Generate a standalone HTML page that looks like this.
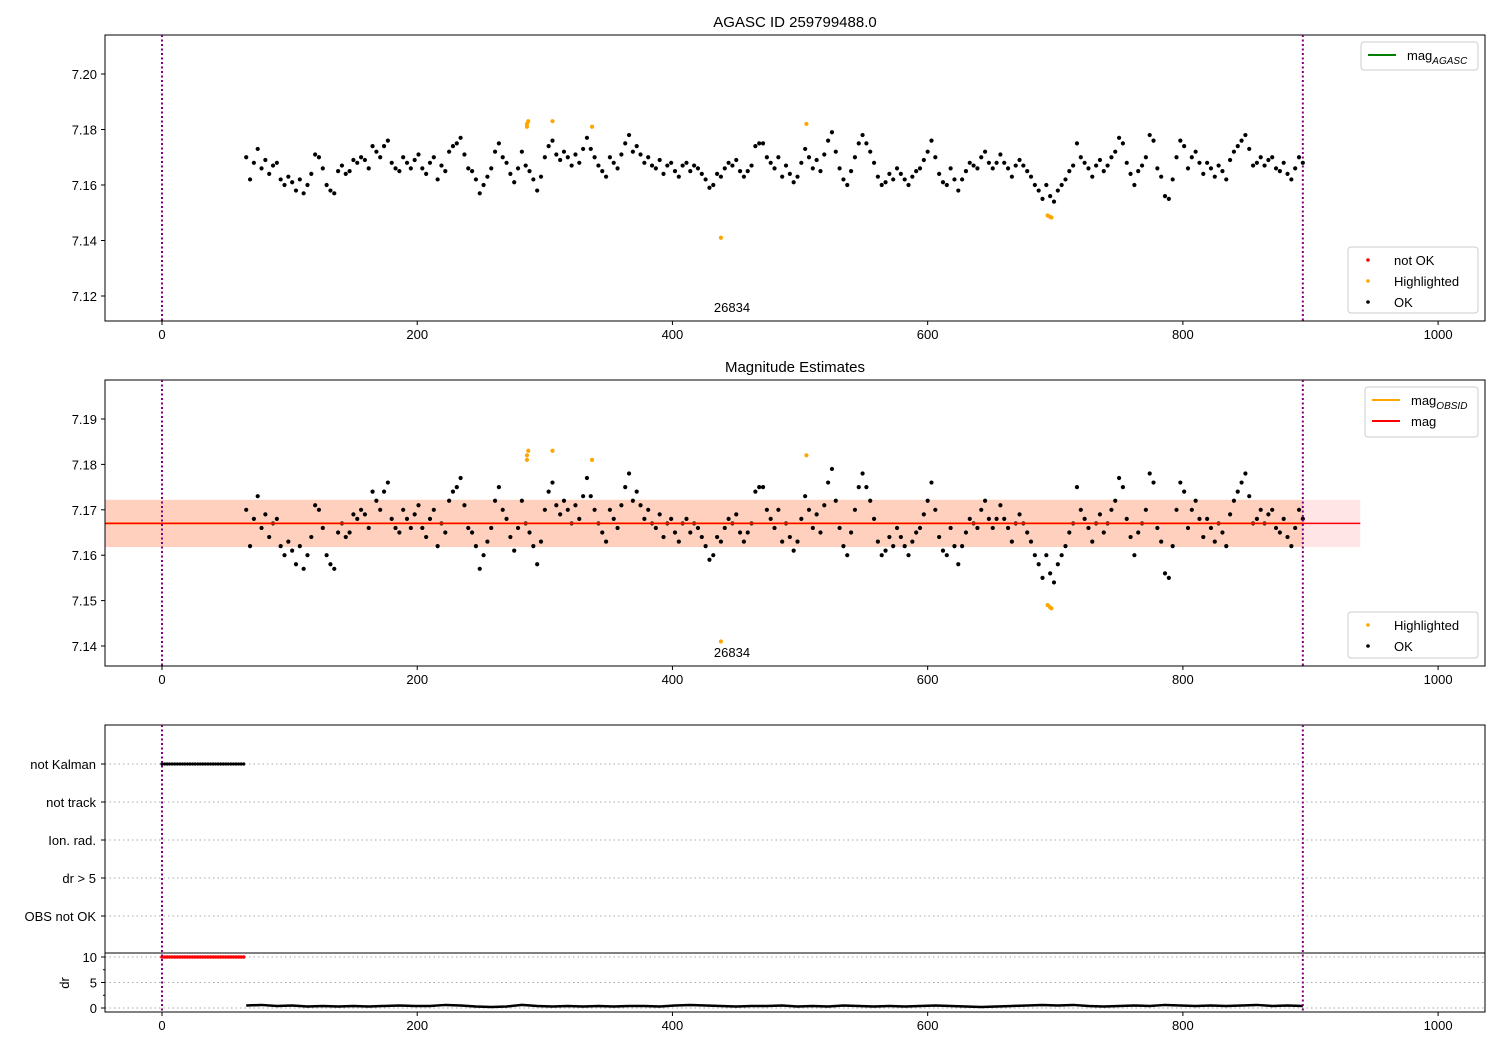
<!DOCTYPE html>
<html><head><meta charset="utf-8"><style>
body{margin:0;background:#fff;}
svg text{font-family:"Liberation Sans","DejaVu Sans",sans-serif;}
</style></head><body>
<svg id="c" width="1500" height="1050" xmlns="http://www.w3.org/2000/svg"></svg>
<script>
const obsStart = 66, obsStep = 3;
const mags = [7.170,7.162,7.168,7.173,7.166,7.169,7.164,7.167,7.168,7.162,7.160,7.163,7.161,7.158,7.162,7.157,7.160,7.164,7.171,7.170,7.166,7.160,7.158,7.157,7.165,7.167,7.164,7.165,7.169,7.168,7.170,7.169,7.166,7.174,7.172,7.170,7.174,7.176,7.168,7.166,7.165,7.170,7.168,7.166,7.169,7.171,7.166,7.164,7.168,7.170,7.162,7.167,7.165,7.172,7.174,7.175,7.177,7.171,7.166,7.165,7.162,7.157,7.160,7.163,7.166,7.172,7.175,7.170,7.168,7.164,7.161,7.166,7.172,7.167,7.165,7.162,7.158,7.163,7.170,7.174,7.176,7.171,7.169,7.172,7.170,7.167,7.171,7.168,7.173,7.177,7.173,7.170,7.167,7.165,7.163,7.170,7.168,7.166,7.171,7.175,7.178,7.172,7.174,7.171,7.168,7.170,7.167,7.166,7.169,7.164,7.167,7.168,7.165,7.163,7.167,7.168,7.165,7.167,7.166,7.164,7.162,7.159,7.160,7.164,7.163,7.166,7.168,7.167,7.169,7.165,7.163,7.165,7.167,7.174,7.175,7.175,7.170,7.168,7.166,7.170,7.163,7.167,7.164,7.161,7.163,7.168,7.173,7.170,7.166,7.169,7.165,7.171,7.176,7.179,7.172,7.166,7.162,7.160,7.165,7.170,7.175,7.178,7.175,7.172,7.168,7.163,7.160,7.161,7.164,7.162,7.166,7.164,7.162,7.160,7.163,7.165,7.166,7.169,7.172,7.176,7.170,7.164,7.161,7.160,7.166,7.162,7.158,7.162,7.165,7.168,7.167,7.166,7.170,7.172,7.168,7.166,7.168,7.171,7.168,7.166,7.163,7.167,7.169,7.167,7.165,7.163,7.160,7.158,7.155,7.160,7.156,7.154,7.158,7.160,7.162,7.165,7.167,7.175,7.170,7.168,7.166,7.163,7.167,7.169,7.165,7.167,7.170,7.172,7.177,7.175,7.168,7.164,7.160,7.165,7.167,7.170,7.178,7.176,7.166,7.163,7.156,7.155,7.162,7.170,7.176,7.174,7.166,7.170,7.172,7.168,7.164,7.168,7.166,7.163,7.167,7.165,7.162,7.169,7.172,7.174,7.176,7.178,7.173,7.167,7.168,7.170,7.167,7.169,7.170,7.166,7.165,7.168,7.164,7.162,7.166,7.170,7.168];
const hlX = [286,287,286,306,337,505,438,694,696,697];
const hlY = [7.182,7.183,7.181,7.183,7.181,7.182,7.141,7.149,7.1485,7.1483];
const kalmanX = [0,2,4,6,8,10,12,14,16,18,20,22,24,26,28,30,32,34,36,38,40,42,44,46,48,50,52,54,56,58,60,62,64];
const drStart = 66, drStep = 12;
const drVals = [0.5,0.6,0.4,0.5,0.3,0.4,0.3,0.4,0.3,0.4,0.5,0.4,0.4,0.6,0.5,0.3,0.2,0.3,0.6,0.4,0.3,0.4,0.3,0.4,0.3,0.4,0.4,0.3,0.5,0.6,0.5,0.4,0.3,0.4,0.4,0.5,0.3,0.4,0.3,0.5,0.4,0.3,0.4,0.3,0.4,0.5,0.4,0.3,0.2,0.3,0.4,0.5,0.6,0.5,0.6,0.4,0.3,0.4,0.5,0.4,0.6,0.5,0.4,0.5,0.4,0.5,0.6,0.4,0.5,0.4];
const catLabels = ["not Kalman","not track","Ion. rad.","dr > 5","OBS not OK"];
const xTicks = [0,200,400,600,800,1000];
const p1Ticks = [7.12,7.14,7.16,7.18,7.20];
const p2Ticks = [7.14,7.15,7.16,7.17,7.18,7.19];
const drTicks = [0,5,10];
const magMean = 7.167, magSig = 0.0052, obsEnd = 894, bandEnd = 939;

const svg = document.getElementById('c');
const NS = 'http://www.w3.org/2000/svg';
function mk(tag, attrs, parent){const e=document.createElementNS(NS,tag);for(const k in attrs)e.setAttribute(k,attrs[k]);(parent||svg).appendChild(e);return e;}
const X0=105,X1=1485;
const xs = v => 162 + (v)*1.2761;
function yLin(d0,d1,p0,p1){return v=>p0+(v-d0)*(p1-p0)/(d1-d0);}
const y1 = yLin(7.20,7.12,74,296);
const y2 = yLin(7.19,7.14,419,646);
const yDr = yLin(10,0,957,1008);
const catY = [764,802,840,878,916];

function frame(top,bot,name){
  const r=mk('rect',{x:X0,y:top,width:X1-X0,height:bot-top,fill:'none',stroke:'#000','stroke-width':1});
  
  
}
function xAxis(bot){
  xTicks.forEach(t=>{const px=xs(t);mk('line',{x1:px,y1:bot,x2:px,y2:bot+4,stroke:'#000'});
    const tx=mk('text',{x:px,y:bot+18,'font-size':13,'text-anchor':'middle'});tx.textContent=t;
    
    });
}
function yAxis(ticks,fy,fmt){
  ticks.forEach(t=>{const py=fy(t);mk('line',{x1:X0-4,y1:py,x2:X0,y2:py,stroke:'#000'});
    const tx=mk('text',{x:X0-8,y:py+5,'font-size':13,'text-anchor':'end'});tx.textContent=fmt(t);
    
    });
}
function vlines(top,bot){[0,obsEnd].forEach(v=>mk('line',{x1:xs(v),y1:top,x2:xs(v),y2:bot,stroke:'#800080','stroke-width':2,'stroke-dasharray':'2,2.5'}));}
function dot(x,y,c,r){mk('circle',{cx:x,cy:y,r:r||2.1,fill:c});}
function title(t,y,name){const tx=mk('text',{x:795,y:y,'font-size':15,'text-anchor':'middle'});tx.textContent=t;
  
  }
function legend(x,y,w,h,items,name){
  const g=mk('g',{});
  
  
  mk('rect',{x:x,y:y,width:w,height:h,rx:3,fill:'#fff','fill-opacity':0.85,stroke:'#ccc'},g);
  items.forEach((it,i)=>{const cy=y+13+i*21;
    if(it.line) mk('line',{x1:x+7,y1:cy,x2:x+35,y2:cy,stroke:it.c,'stroke-width':2},g);
    else mk('circle',{cx:x+20,cy:cy,r:1.8,fill:it.c},g);
    const tx=mk('text',{x:x+46,y:cy+5,'font-size':13},g);tx.innerHTML=it.t;});
}

// Panel 1
title('AGASC ID 259799488.0',27,'top-title');
frame(35,321,'agasc-panel');
xAxis(321); yAxis(p1Ticks,y1,v=>v.toFixed(2)); vlines(35,321);
mags.forEach((m,i)=>dot(xs(obsStart+i*obsStep),y1(m),'#000'));
hlX.forEach((v,i)=>dot(xs(v),y1(hlY[i]),'orange'));
let t=mk('text',{x:732,y:312,'font-size':13,'text-anchor':'middle'});t.textContent='26834';
legend(1361,42,117,28,[{line:1,c:'green',t:'mag<tspan font-size="10" font-style="italic" dy="4">AGASC</tspan>'}],'agasc-legend');
legend(1348,247,130,66,[{c:'red',t:'not OK'},{c:'orange',t:'Highlighted'},{c:'#000',t:'OK'}],'status-legend');

// Panel 2
title('Magnitude Estimates',372,'magnitude-title');
mk('rect',{x:X0,y:y2(magMean+magSig),width:xs(bandEnd)-X0,height:y2(magMean-magSig)-y2(magMean+magSig),fill:'#ffcccc','fill-opacity':0.5});
mk('rect',{x:X0,y:y2(magMean+magSig),width:xs(obsEnd)-X0,height:y2(magMean-magSig)-y2(magMean+magSig),fill:'#ffa060','fill-opacity':0.3});
mags.forEach((m,i)=>dot(xs(obsStart+i*obsStep),y2(m),'#000'));
hlX.forEach((v,i)=>dot(xs(v),y2(hlY[i]),'orange'));
mk('line',{x1:X0,y1:y2(magMean),x2:xs(obsEnd),y2:y2(magMean),stroke:'orange','stroke-width':2});
mk('line',{x1:X0,y1:y2(magMean),x2:xs(bandEnd),y2:y2(magMean),stroke:'red','stroke-width':1.5});
frame(380,666,'magnitude-panel');
xAxis(666); yAxis(p2Ticks,y2,v=>v.toFixed(2)); vlines(380,666);
t=mk('text',{x:732,y:657,'font-size':13,'text-anchor':'middle'});t.textContent='26834';
legend(1365,387,113,50,[{line:1,c:'orange',t:'mag<tspan font-size="10" font-style="italic" dy="4">OBSID</tspan>'},{line:1,c:'red',t:'mag'}],'mag-legend');
legend(1348,612,130,46,[{c:'orange',t:'Highlighted'},{c:'#000',t:'OK'}],'hl-legend');

// Panel 3
catLabels.forEach((c,i)=>{mk('line',{x1:X0,y1:catY[i],x2:X1,y2:catY[i],stroke:'#aaa','stroke-dasharray':'1.5,3'});
  mk('line',{x1:X0-4,y1:catY[i],x2:X0,y2:catY[i],stroke:'#000'});
  const tx=mk('text',{x:X0-9,y:catY[i]+5,'font-size':13,'text-anchor':'end'});tx.textContent=c;
  
  });
drTicks.forEach(d=>mk('line',{x1:X0,y1:yDr(d),x2:X1,y2:yDr(d),stroke:'#aaa','stroke-dasharray':'1.5,3'}));
kalmanX.forEach(v=>{dot(xs(v),catY[0],'#000',1.6);dot(xs(v),yDr(10),'red',1.8);});
const pts=drVals.map((d,i)=>xs(drStart+i*drStep)+','+yDr(d)).join(' ');
mk('polyline',{points:pts,fill:'none',stroke:'#000','stroke-width':2.5});
frame(725,953,'flags-panel');
frame(953,1012,'dr-panel');
yAxis(drTicks,yDr,v=>v); xAxis(1012); vlines(725,1012);
[2.5,7.5].forEach(d=>mk('line',{x1:X0-2,y1:yDr(d),x2:X0,y2:yDr(d),stroke:'#000'}));
t=mk('text',{x:0,y:0,'font-size':13,'text-anchor':'middle',transform:'translate(69,983) rotate(-90)'});t.textContent='dr';


</script>
</body></html>
